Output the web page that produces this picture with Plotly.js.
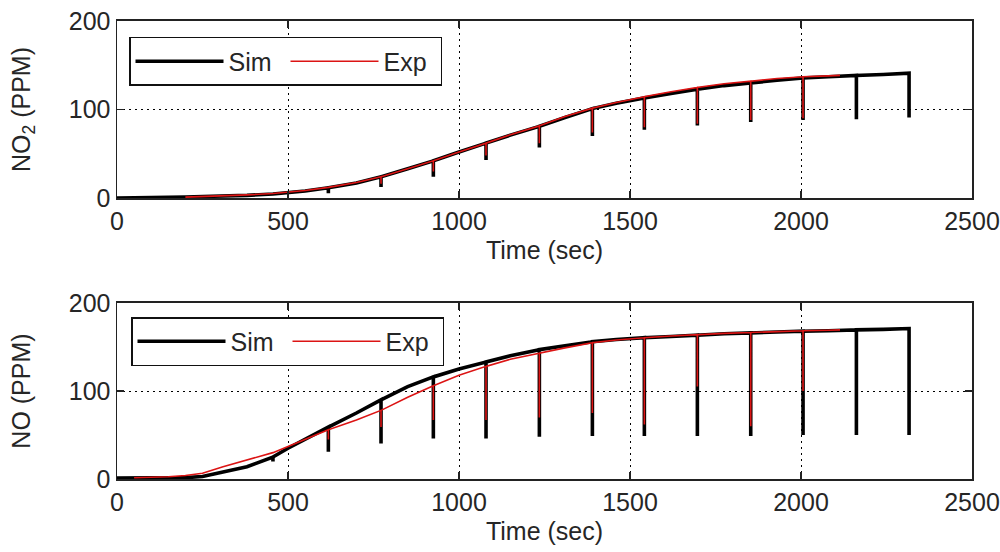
<!DOCTYPE html>
<html><head><meta charset="utf-8">
<script src="https://cdn.plot.ly/plotly-3.0.1.min.js"></script>
<style>html,body{margin:0;padding:0;background:#fff}</style>
</head><body><div id="chart" style="width:1000px;height:552px"></div>
<script>
// ---- data ----
const simTime = [0, 50, 100, 150, 200, 250, 310, 380, 456, 500, 550, 618, 700, 772, 850, 925, 1000, 1079, 1150, 1235, 1310, 1390, 1460, 1542, 1620, 1697, 1775, 1853, 1930, 2006, 2080, 2162, 2240, 2316];
const simNO2 = [0, 0, 0.3, 0.8, 1.2, 1.5, 2, 3, 4.5, 6, 8, 11.5, 17, 24, 33, 42, 52, 62, 71, 81, 91, 101, 107, 113, 118, 123, 127, 130, 133, 135.5, 137, 138.5, 139.5, 141];
const simNO = [1, 1, 1, 1.2, 1.6, 2.8, 8, 14, 25, 35, 45, 59, 75, 90, 105, 116, 125, 133, 140, 147, 151.5, 156, 158.5, 160.5, 162, 163.5, 165, 166, 167, 168, 168.5, 169.5, 170, 171];

const expTimeNO2 = [200, 250, 310, 380, 456, 500, 550, 618, 700, 772, 850, 925, 1000, 1079, 1150, 1235, 1310, 1390, 1460, 1542, 1620, 1697, 1775, 1853, 1930, 2006, 2080, 2114];
const expNO2 = [1, 1.5, 2.5, 3.5, 5, 6.5, 8.5, 12, 17.5, 24, 33, 42, 52, 62, 71.5, 81.5, 92, 101.5, 108, 114.5, 120, 125, 129, 132, 135, 137, 138, 138.5];
const expTimeNO = [50, 100, 150, 200, 250, 310, 380, 456, 500, 550, 618, 700, 772, 850, 925, 1000, 1079, 1150, 1235, 1310, 1390, 1460, 1542, 1620, 1697, 1775, 1853, 1930, 2006, 2080, 2114];
const expNO = [1.5, 2, 2.5, 4, 6.5, 14, 21.5, 30, 37, 45, 56, 67, 78, 93, 106, 118, 128, 136, 143, 149, 155, 158, 160.5, 162.5, 164, 165.5, 166.5, 167.5, 168.5, 169, 169.5];

// sampling dips (time, lowest value)
const simDipTimeNO2 = [618, 772, 925, 1079, 1235, 1390, 1542, 1697, 1853, 2006, 2162];
const simNO2DipLow = [5.5, 12.5, 24, 43, 57, 70, 77, 82, 86, 88, 89];
const simDipTimeNO = [456, 618, 772, 925, 1079, 1235, 1390, 1542, 1697, 1853, 2006, 2162];
const simNODipLow = [20, 31, 40.5, 46, 46, 48, 49, 49, 49, 49, 50, 50];
const expDipTimeNO2 = [772, 925, 1079, 1235, 1390, 1542, 1697, 1853, 2006];
const expNO2DipLow = [16, 30, 48, 62, 74, 80, 84, 88, 90];
const expDipTimeNO = [618, 772, 925, 1079, 1235, 1390, 1542, 1697, 1853, 2006];
const expNODipLow = [45, 59, 67, 67, 70, 75, 62, 105, 60, 100];
const simNO2EndLow = 91;
const simNOEndLow = 50;

const seriesNames = ['Sim', 'Exp'];

function withDips(t, v, dipT, dipLow, endLow) {
  const x = [], y = [];
  for (let i = 0; i < t.length; i++) {
    x.push(t[i]); y.push(v[i]);
    const k = dipT.indexOf(t[i]);
    if (k >= 0) { x.push(t[i], t[i]); y.push(dipLow[k], v[i]); }
  }
  if (endLow !== null && endLow !== undefined) { x.push(t[t.length - 1]); y.push(endLow); }
  return {x, y};
}

const sTop = withDips(simTime, simNO2, simDipTimeNO2, simNO2DipLow, simNO2EndLow);
const eTop = withDips(expTimeNO2, expNO2, expDipTimeNO2, expNO2DipLow, null);
const sBot = withDips(simTime, simNO, simDipTimeNO, simNODipLow, simNOEndLow);
const eBot = withDips(expTimeNO, expNO, expDipTimeNO, expNODipLow, null);

const BLACK = '#000000', RED = '#dc1414';
const FONT = 'Liberation Sans, Arial, sans-serif';
const TXT = '#262626';

const traces = [
  {x: sTop.x, y: sTop.y, xaxis: 'x', yaxis: 'y', name: seriesNames[0], mode: 'lines', line: {color: BLACK, width: 3.6}, legend: 'legend'},
  {x: eTop.x, y: eTop.y, xaxis: 'x', yaxis: 'y', name: seriesNames[1], mode: 'lines', line: {color: RED, width: 1.6}, legend: 'legend'},
  {x: sBot.x, y: sBot.y, xaxis: 'x2', yaxis: 'y2', name: seriesNames[0], mode: 'lines', line: {color: BLACK, width: 3.6}, legend: 'legend2'},
  {x: eBot.x, y: eBot.y, xaxis: 'x2', yaxis: 'y2', name: seriesNames[1], mode: 'lines', line: {color: RED, width: 1.6}, legend: 'legend2'}
];

function xax(anchor) {
  return {domain: [0.117, 0.972], range: [0, 2500], dtick: 500, anchor: anchor,
    showline: true, linecolor: '#222', linewidth: 1.5, mirror: 'allticks',
    ticks: 'inside', ticklen: 7, tickcolor: '#222', tickwidth: 1.5,
    showgrid: true, gridcolor: '#000', gridwidth: 1, griddash: '2px,4px', zeroline: false,
    tickfont: {family: FONT, size: 25, color: TXT},
    title: {text: 'Time (sec)', font: {family: FONT, size: 25, color: TXT}, standoff: 8},
    automargin: false, fixedrange: true};
}
function yax(domain, anchor, title) {
  return {domain: domain, range: [0, 200], dtick: 100, anchor: anchor,
    showline: true, linecolor: '#222', linewidth: 1.5, mirror: 'allticks',
    ticks: 'inside', ticklen: 7, tickcolor: '#222', tickwidth: 1.5,
    showgrid: true, gridcolor: '#000', gridwidth: 1, griddash: '2px,4px', zeroline: false,
    tickfont: {family: FONT, size: 25, color: TXT},
    title: {text: title, font: {family: FONT, size: 25, color: TXT}, standoff: 31},
    automargin: false, fixedrange: true};
}

const legendBase = {orientation: 'h', xanchor: 'left', yanchor: 'top', bgcolor: '#fff',
  bordercolor: '#111', borderwidth: 1.5, font: {family: FONT, size: 25, color: TXT},
  itemwidth: 88, entrywidth: 52, itemclick: false, itemdoubleclick: false};

const layout = {
  width: 1000, height: 552,
  margin: {l: 0, r: 0, t: 0, b: 0},
  paper_bgcolor: '#fff', plot_bgcolor: '#fff',
  showlegend: true,
  xaxis: xax('y'),
  yaxis: yax([0.6413, 0.962], 'x', 'NO<sub>2</sub> (PPM)'),
  xaxis2: xax('y2'),
  yaxis2: yax([0.1322, 0.4511], 'x2', 'NO (PPM)'),
  legend: Object.assign({}, legendBase, {x: 0.129, y: 0.933}),
  legend2: Object.assign({}, legendBase, {x: 0.131, y: 0.4257})
};

Plotly.newPlot('chart', traces, layout, {staticPlot: true, displayModeBar: false});
</script>
</body></html>
